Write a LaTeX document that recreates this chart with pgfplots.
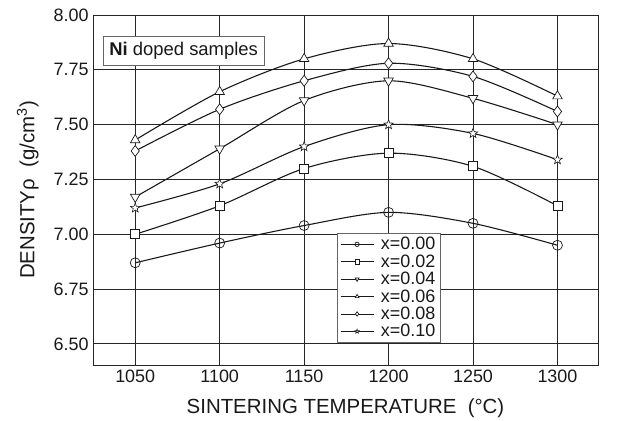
\documentclass[border=0pt]{standalone}
\usepackage{pgfplots}
\pgfplotsset{compat=1.18}
\usepackage{fontspec}
\setmainfont{Liberation Sans}

% open five-pointed star
\pgfdeclareplotmark{fivestar}{%
  \pgfpathmoveto{\pgfpointpolar{90}{\pgfplotmarksize}}%
  \pgfpathlineto{\pgfpointpolar{126}{0.42\pgfplotmarksize}}%
  \pgfpathlineto{\pgfpointpolar{162}{\pgfplotmarksize}}%
  \pgfpathlineto{\pgfpointpolar{198}{0.42\pgfplotmarksize}}%
  \pgfpathlineto{\pgfpointpolar{234}{\pgfplotmarksize}}%
  \pgfpathlineto{\pgfpointpolar{270}{0.42\pgfplotmarksize}}%
  \pgfpathlineto{\pgfpointpolar{306}{\pgfplotmarksize}}%
  \pgfpathlineto{\pgfpointpolar{342}{0.42\pgfplotmarksize}}%
  \pgfpathlineto{\pgfpointpolar{18}{\pgfplotmarksize}}%
  \pgfpathlineto{\pgfpointpolar{54}{0.42\pgfplotmarksize}}%
  \pgfpathclose
  \pgfusepathqfillstroke}

\begin{document}
\begin{tikzpicture}
\begin{axis}[
  scale only axis,
  width=505bp, height=350bp,
  xmin=1025, xmax=1324,
  ymin=6.404, ymax=8.00,
  xtick={1050,1100,1150,1200,1250,1300},
  ytick={6.50,6.75,7.00,7.25,7.50,7.75,8.00},
  grid=major,
  major grid style={black!85, line width=0.9pt},
  axis line style={black!85, line width=0.9pt},
  tick style={draw=none},
  /pgf/number format/assume math mode=true,
  yticklabel style={/pgf/number format/fixed, /pgf/number format/fixed zerofill,
    /pgf/number format/precision=2, xshift=-1bp},
  xticklabel style={/pgf/number format/set thousands separator={}, yshift=-1bp},
  ticklabel style={font=\fontsize{18}{20}\selectfont, text=black!90},
  xlabel={SINTERING TEMPERATURE\ \ (°C)},
  ylabel={DENSITYρ\ \ (g/cm\textsuperscript{3})},
  label style={font=\fontsize{20.5}{22}\selectfont, text=black!90},
  xlabel style={at={(axis description cs:0.5,-0.123)}, anchor=center},
  ylabel style={at={(axis description cs:-0.129,0.5)}, anchor=center},
  legend style={at={(axis description cs:0.483,0.377)}, anchor=north west,
    draw=black!60, line width=0.6pt, font=\fontsize{18}{18}\selectfont,
    row sep=-0.6pt, inner xsep=3pt, inner ysep=2pt, text=black!90,
    /tikz/every odd column/.append style={column sep=5pt}},
  legend cell align=left,
  legend image code/.code={
    \draw[#1, mark repeat=2, mark phase=2, mark size=2.2pt, line width=0.9pt]
      plot coordinates {(0cm,0cm) (0.58cm,0cm) (1.16cm,0cm)};},
  every axis plot/.append style={black!90, line width=1.1pt, smooth, tension=0.5},
]
\addplot[mark=o, mark size=5pt, mark options={solid, fill=white, line width=0.7pt}] coordinates {
  (1050,6.87) (1100,6.96) (1150,7.04) (1200,7.10) (1250,7.05) (1300,6.95)};
\addlegendentry{x=0.00}
\addplot[mark=square*, mark size=4.5pt, mark options={solid, fill=white, line width=0.7pt}] coordinates {
  (1050,7.00) (1100,7.13) (1150,7.30) (1200,7.37) (1250,7.31) (1300,7.13)};
\addlegendentry{x=0.02}
\addplot[mark=triangle*, mark size=5.5pt, mark options={solid, fill=white, line width=0.7pt, rotate=180}] coordinates {
  (1050,7.17) (1100,7.39) (1150,7.61) (1200,7.70) (1250,7.62) (1300,7.50)};
\addlegendentry{x=0.04}
\addplot[mark=triangle*, mark size=5.5pt, mark options={solid, fill=white, line width=0.7pt}] coordinates {
  (1050,7.43) (1100,7.65) (1150,7.80) (1200,7.87) (1250,7.80) (1300,7.63)};
\addlegendentry{x=0.06}
\addplot[mark=diamond*, mark size=5.5pt, mark options={solid, fill=white, line width=0.7pt}] coordinates {
  (1050,7.38) (1100,7.57) (1150,7.70) (1200,7.78) (1250,7.72) (1300,7.56)};
\addlegendentry{x=0.08}
\addplot[mark=fivestar, mark size=5pt, mark options={solid, fill=white, line width=0.6pt}] coordinates {
  (1050,7.12) (1100,7.23) (1150,7.40) (1200,7.50) (1250,7.46) (1300,7.34)};
\addlegendentry{x=0.10}
\node[draw=black!60, line width=0.6pt, fill=white, anchor=north west,
  font=\fontsize{18.5}{20}\selectfont, text=black!90, inner xsep=6pt, inner ysep=5pt,
  minimum height=29bp]
  at (axis description cs:0.02,0.94) {\textbf{Ni} doped samples};
\end{axis}
\pgfresetboundingbox
\path ([xshift=-93bp,yshift=-56bp]current axis.south west)
  rectangle ([xshift=23bp,yshift=15bp]current axis.north east);
\end{tikzpicture}
\end{document}
